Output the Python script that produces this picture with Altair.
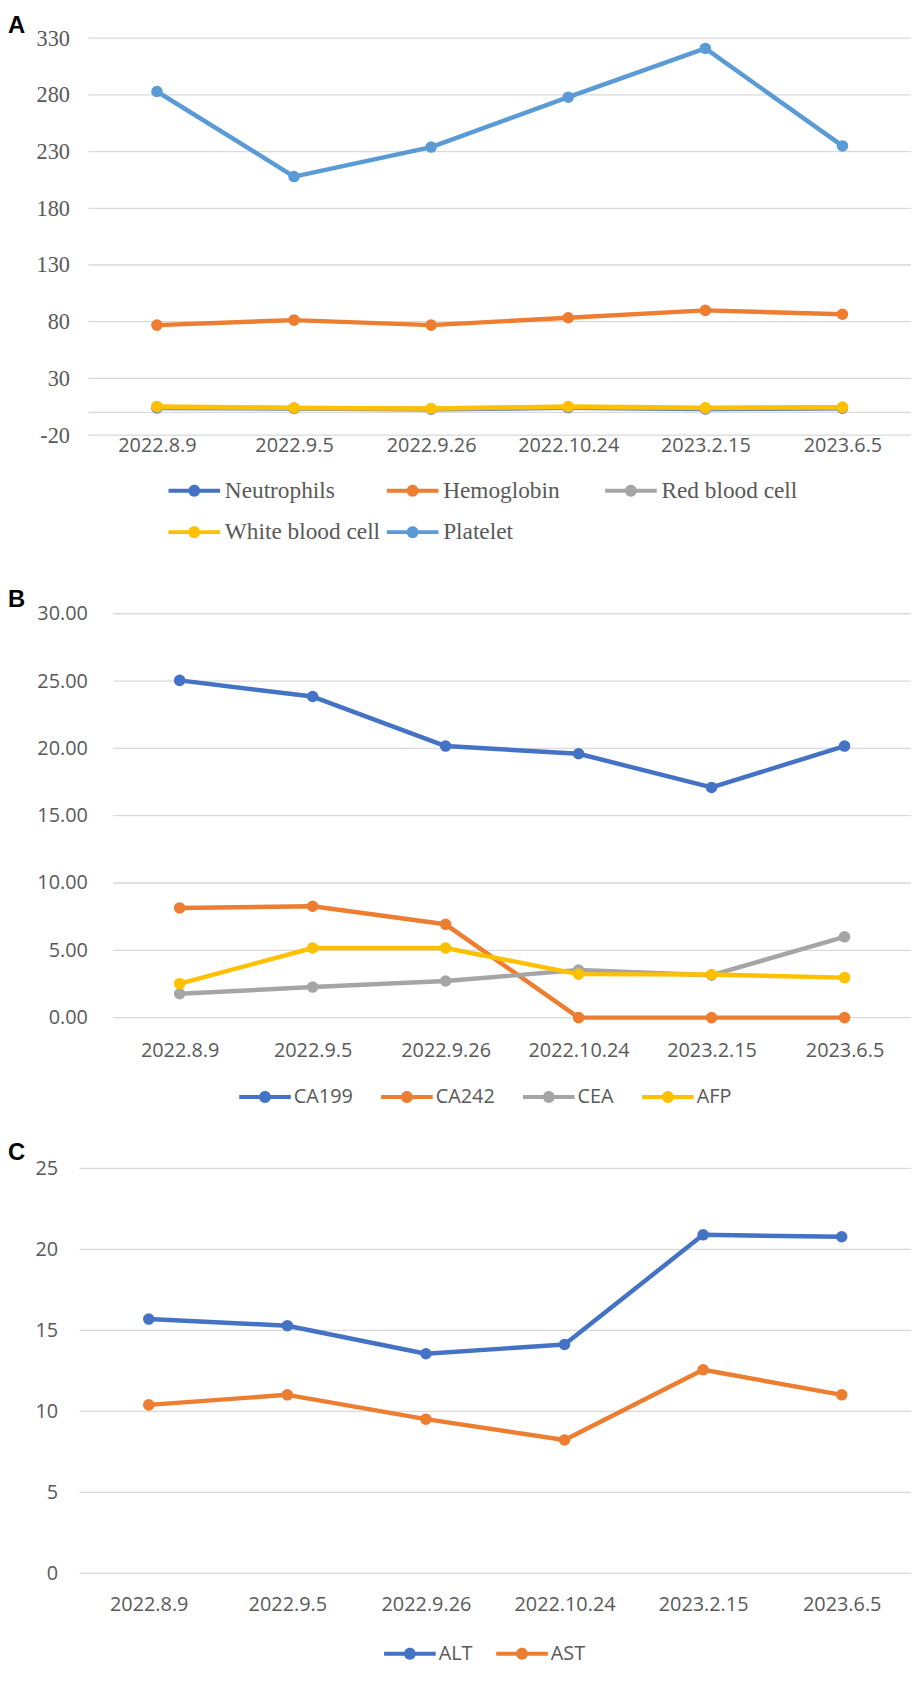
import altair as alt
import pandas as pd

dates = ["2022.8.9", "2022.9.5", "2022.9.26", "2022.10.24", "2023.2.15", "2023.6.5"]

# Panel A
a_series = ["Neutrophils", "Hemoglobin", "Red blood cell", "White blood cell", "Platelet"]
neutrophils = [3.9, 3.5, 2.8, 4.1, 3.0, 3.7]
hemoglobin = [77, 81.4, 77, 83.5, 90, 86.6]
red_blood_cell = [4.4, 3.9, 3.2, 4.6, 3.6, 4.2]
white_blood_cell = [5.3, 4.0, 3.4, 5.3, 4.1, 4.7]
platelet = [283, 208, 234, 278, 321, 235]
a_values = [neutrophils, hemoglobin, red_blood_cell, white_blood_cell, platelet]
a_colors = ["#4472C4", "#ED7D31", "#A5A5A5", "#FFC000", "#5B9BD5"]
a_ticks = [-20, 30, 80, 130, 180, 230, 280, 330]

# Panel B
b_series = ["CA199", "CA242", "CEA", "AFP"]
ca199 = [25.05, 23.85, 20.17, 19.6, 17.1, 20.17]
ca242 = [8.15, 8.27, 6.93, 0.0, 0.0, 0.0]
cea = [1.77, 2.27, 2.72, 3.53, 3.15, 6.0]
afp = [2.52, 5.17, 5.17, 3.23, 3.2, 2.97]
b_values = [ca199, ca242, cea, afp]
b_colors = ["#4472C4", "#ED7D31", "#A5A5A5", "#FFC000"]
b_ticks = [0, 5, 10, 15, 20, 25, 30]

# Panel C
c_series = ["ALT", "AST"]
alt_values = [15.7, 15.29, 13.56, 14.13, 20.9, 20.78]
ast_values = [10.4, 11.02, 9.52, 8.23, 12.57, 11.02]
c_values = [alt_values, ast_values]
c_colors = ["#4472C4", "#ED7D31"]
c_ticks = [0, 5, 10, 15, 20, 25]

LABEL_COLOR = "#595959"
GRID_COLOR = "#D9D9D9"
SANS = "Open Sans"
SERIF = "Liberation Serif"
SYMBOL = "M-1,-0.333L7.667,-0.333L7.667,0.333L-1,0.333Z M4.333,0A1,1,0,1,1,2.333,0A1,1,0,1,1,4.333,0Z"
VIEW_W = 838


def long_df(series, values):
    rows = []
    for s, vals in zip(series, values):
        for d, v in zip(dates, vals):
            rows.append({"date": d, "series": s, "value": v})
    return pd.DataFrame(rows)


def panel(letter, series, values, colors, ticks, domain, plot_h, top_extra, x0,
          y_font, y_size, y_pad, y_fmt, x_pad,
          leg_font, leg_size, leg_x, leg_y, leg_cols, leg_colpad, leg_rowpad,
          title_dy, zero_rule=False):
    view_h = plot_h + top_extra
    df = long_df(series, values)
    xscale = alt.Scale(domain=dates, range=[x0, VIEW_W])
    yscale = alt.Scale(domain=domain, nice=False, zero=False, range=[view_h, top_extra])
    x = alt.X("date:N", sort=dates, scale=xscale,
              axis=alt.Axis(title=None, labelAngle=0, labelFont=SANS, labelFontSize=20,
                            labelColor=LABEL_COLOR, labelPadding=x_pad, ticks=False,
                            tickSize=0, domain=False, grid=False, labelOverlap=False))
    y_axis_args = dict(title=None, values=ticks, grid=False,
                       domain=False, ticks=False, tickSize=0, labelFont=y_font,
                       labelFontSize=y_size, labelColor=LABEL_COLOR,
                       labelPadding=y_pad, labelOverlap=False, offset=-x0)
    if y_fmt == "plain":
        y_axis_args["labelExpr"] = "toString(datum.value)"
    else:
        y_axis_args["format"] = y_fmt
    y = alt.Y("value:Q", scale=yscale, axis=alt.Axis(**y_axis_args))
    color_scale = alt.Scale(domain=series, range=colors)
    legend = alt.Legend(title=None, orient="none", legendX=leg_x, legendY=leg_y,
                        direction="horizontal", columns=leg_cols,
                        gridAlign="all" if leg_cols < len(series) else "each",
                        columnPadding=leg_colpad, rowPadding=leg_rowpad,
                        symbolType=SYMBOL, symbolSize=144, symbolStrokeWidth=0,
                        symbolOpacity=1, labelFont=leg_font, labelFontSize=leg_size,
                        labelColor=LABEL_COLOR, labelOffset=39, labelLimit=400,
                        padding=0)

    grid_df = pd.DataFrame({"value": ticks})
    layers = [
        alt.Chart(grid_df).mark_rule(color=GRID_COLOR, strokeWidth=1.3).encode(
            y=y, x=alt.value(x0), x2=alt.value(VIEW_W))
    ]
    if zero_rule:
        layers.append(
            alt.Chart(pd.DataFrame({"value": [0]})).mark_rule(color=GRID_COLOR, strokeWidth=1.3)
            .encode(y=y, x=alt.value(x0), x2=alt.value(VIEW_W))
        )
    base = alt.Chart(df).encode(x=x, y=y)
    for s, c in zip(series, colors):
        b = base.transform_filter(alt.datum.series == s)
        layers.append(b.mark_line(color=c, strokeWidth=4.5, strokeJoin="round", strokeCap="round"))
        layers.append(
            b.mark_circle(size=135, opacity=1).encode(
                color=alt.Color("series:N", scale=color_scale, legend=legend))
        )
    return alt.layer(*layers).properties(
        width=VIEW_W, height=view_h,
        title=alt.TitleParams(letter, anchor="start", frame="group", font="Liberation Sans",
                              fontWeight="bold", fontSize=24, color="#000000",
                              dx=-72, dy=title_dy, offset=0, baseline="alphabetic"),
    )


pa = panel("A", a_series, a_values, a_colors, a_ticks, [-20, 330], 400, 0, 9,
           SERIF, 22.5, 19, "plain", 0,
           SERIF, 23.5, 84, 444, 3, 0, 17, 30, zero_rule=True)
pb = panel("B", b_series, b_values, b_colors, b_ticks, [0, 30], 407, 28, 34,
           SANS, 20, 26, ".2f", 23,
           SANS, 20, 157, 505, 4, 24, 0, 45)
pc = panel("C", c_series, c_values, c_colors, c_ticks, [0, 25], 408, 0, 0,
           SANS, 20, 22, "d", 21.6,
           SANS, 20, 303, 479, 2, 19, 0, 25)

chart = alt.vconcat(pa, pb, pc, spacing=152, bounds="flush").resolve_scale(
    color="independent", y="independent", x="independent"
).resolve_legend(color="independent").properties(padding=0).configure_view(strokeWidth=0)

chart.save("out.html", embed_options={"renderer": "svg", "actions": False})
